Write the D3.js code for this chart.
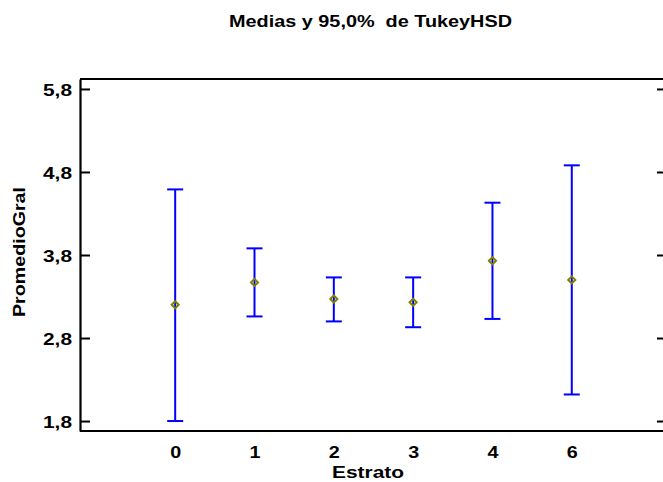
<!DOCTYPE html>
<html>
<head>
<meta charset="utf-8">
<script src="https://cdn.jsdelivr.net/npm/d3@7"></script>
<style>
  html, body { margin: 0; padding: 0; background: #ffffff; }
  svg { display: block; }
  text { font-family: "Liberation Sans", Arial, sans-serif; font-weight: bold; fill: #000; }
</style>
</head>
<body>
<svg id="chart" width="663" height="482"></svg>
<script>
// ---- data ----
const categories = ["0", "1", "2", "3", "4", "6"];
const means = [3.20, 3.47, 3.27, 3.23, 3.73, 3.50];
const lower = [1.80, 3.06, 3.00, 2.93, 3.03, 2.12];
const upper = [4.59, 3.88, 3.53, 3.53, 4.43, 4.88];
const yTicks = [1.8, 2.8, 3.8, 4.8, 5.8];
const titleText = "Medias y 95,0%  de TukeyHSD";
const xTitle = "Estrato";
const yTitle = "PromedioGral";

// ---- layout ----
const plotLeft = 80, plotRight = 663, plotTop = 79, plotBottom = 431;

const svg = d3.select("#chart");

const x = d3.scaleLinear().domain([-1.2, 6.15]).range([plotLeft, plotRight]);
const y = d3.scaleLinear().domain([1.68, 5.92]).range([plotBottom, plotTop]);
const fmt = d => d3.format(".1f")(d).replace(".", ",");

// title
svg.append("text")
  .attr("x", 229).attr("y", 27)
  .attr("font-size", 17)
  .attr("textLength", 283).attr("lengthAdjust", "spacingAndGlyphs")
  .style("white-space", "pre")
  .attr("xml:space", "preserve")
  .text(titleText);

// frame lines
const frame = svg.append("g").attr("stroke", "#000").attr("stroke-width", 2.2).attr("fill", "none");
frame.append("line").attr("x1", plotLeft).attr("x2", plotRight).attr("y1", plotTop).attr("y2", plotTop);
frame.append("line").attr("x1", plotLeft).attr("x2", plotRight).attr("y1", plotBottom).attr("y2", plotBottom);

// left axis
const yAxis = d3.axisLeft(y).tickValues(yTicks).tickSizeInner(-10).tickSizeOuter(0).tickPadding(8).tickFormat(fmt);
const gy = svg.append("g").attr("transform", `translate(${plotLeft},0)`).call(yAxis);
gy.select(".domain").attr("stroke", "#000").attr("stroke-width", 2.2);
gy.selectAll(".tick line").attr("stroke", "#000").attr("stroke-width", 2);
gy.selectAll(".tick text")
  .attr("font-size", 17).attr("font-family", null)
  .attr("textLength", 29).attr("lengthAdjust", "spacingAndGlyphs")
  .attr("dy", "0.36em");

// right ticks
const yAxisR = d3.axisRight(y).tickValues(yTicks).tickSizeInner(-6).tickSizeOuter(0).tickFormat("");
const gyr = svg.append("g").attr("transform", `translate(${plotRight},0)`).call(yAxisR);
gyr.select(".domain").remove();
gyr.selectAll(".tick line").attr("stroke", "#000").attr("stroke-width", 2);

// bottom axis labels
const xAxis = d3.axisBottom(x).tickValues(d3.range(categories.length)).tickSize(0).tickPadding(15)
  .tickFormat(i => categories[i]);
const gx = svg.append("g").attr("transform", `translate(0,${plotBottom})`).call(xAxis);
gx.select(".domain").remove();
gx.selectAll(".tick text").attr("font-size", 17).attr("font-family", null)
  .attr("textLength", 11).attr("lengthAdjust", "spacingAndGlyphs");

// axis titles
svg.append("text")
  .attr("x", 368).attr("y", 478)
  .attr("text-anchor", "middle")
  .attr("font-size", 16.5)
  .attr("textLength", 72).attr("lengthAdjust", "spacingAndGlyphs")
  .text(xTitle);

svg.append("text")
  .attr("transform", "translate(25,252) rotate(-90)")
  .attr("text-anchor", "middle")
  .attr("font-size", 17)
  .attr("textLength", 130).attr("lengthAdjust", "spacingAndGlyphs")
  .text(yTitle);

// error bars
const capHalf = 8;
const bars = svg.append("g").attr("stroke", "#0000ff").attr("stroke-width", 2).attr("fill", "none");
categories.forEach((c, i) => {
  const cx = x(i);
  bars.append("line").attr("x1", cx).attr("x2", cx).attr("y1", y(lower[i])).attr("y2", y(upper[i]));
  bars.append("line").attr("x1", cx - capHalf).attr("x2", cx + capHalf).attr("y1", y(upper[i])).attr("y2", y(upper[i]));
  bars.append("line").attr("x1", cx - capHalf).attr("x2", cx + capHalf).attr("y1", y(lower[i])).attr("y2", y(lower[i]));
});

// mean markers (diamonds)
const diamond = d3.symbol().type(d3.symbolDiamond2).size(32);
svg.append("g").selectAll("path")
  .data(means)
  .join("path")
  .attr("transform", (d, i) => `translate(${x(i)},${y(d)})`)
  .attr("d", diamond)
  .attr("fill", "none")
  .attr("stroke", "#808000")
  .attr("stroke-width", 2);
</script>
</body>
</html>
